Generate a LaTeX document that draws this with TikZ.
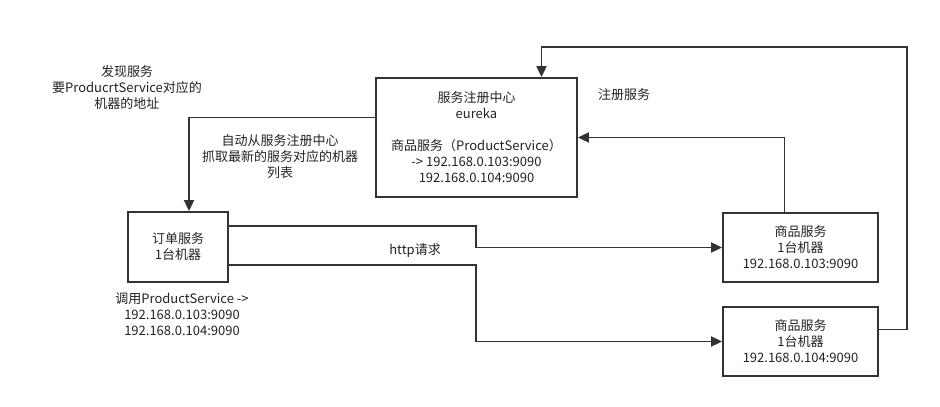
\documentclass[tikz,border=0pt]{standalone}
\usepackage{fontspec}
\setmainfont{Noto Sans CJK SC}
\usetikzlibrary{arrows.meta}
\definecolor{lineColor}{RGB}{51,51,51}
\definecolor{textColor}{RGB}{34,34,34}
\tikzstyle{diagram} = [x = 1pt, y = -1pt, every node/.style={font=\fontsize{13}{16}\selectfont, text=textColor, align=center}]
\tikzstyle{boxStyle} = [draw=lineColor, line width=1.8pt, inner sep=0pt]
\tikzstyle{plainLink} = [draw=lineColor, line width=1.8pt]
\tikzstyle{linkStyle} = [plainLink, -{Triangle[length=11pt, width=10pt]}]
\newcommand{\serviceBox}[6]{\node [boxStyle, minimum width=#4pt, minimum height=#5pt] (#1) at (#2,#3) {#6};}

\begin{document}
\begin{tikzpicture}[diagram]
        \useasboundingbox (0,0) rectangle (940,407);
        % boxes
        \serviceBox{eureka}{476.5}{137.5}{201}{119}{服务注册中心\\eureka\\[16pt]商品服务（ProductService）\\-> 192.168.0.103:9090\\192.168.0.104:9090}
        \serviceBox{order}{178}{247}{100}{70}{订单服务\\1台机器}
        \serviceBox{productA}{800.5}{247.5}{155}{69}{商品服务\\1台机器\\192.168.0.103:9090}
        \serviceBox{productB}{800.5}{341.5}{155}{69}{商品服务\\1台机器\\192.168.0.104:9090}

        % notes
        \node (discoverNote) at (127,88) {发现服务\\要ProducrtService对应的\\机器的地址};
        \node (fetchNote) at (280,157) {自动从服务注册中心\\抓取最新的服务对应的机器\\列表};
        \node (registerNote) at (624,95) {注册服务};
        \node (httpNote) at (415,251) {http请求};
        \node (callNote) at (182,314) {调用ProductService ->\\192.168.0.103:9090\\192.168.0.104:9090};

        % links
        \coordinate (registerTop) at (907,47);
        \draw [linkStyle] ([yshift=20]eureka.west) -| ([xshift=11]order.north);
        \draw [linkStyle] ([yshift=21]order.east) -- ++(247,0) |- (productA.west);
        \draw [linkStyle] ([yshift=-18]order.east) -- ++(247,0) |- (productB.west);
        \draw [linkStyle] ([xshift=-16]productA.north) |- (eureka.east);
        \draw [linkStyle] ([yshift=12]productB.east) -| (registerTop) -| ([xshift=65]eureka.north);
      \end{tikzpicture}
\end{document}
